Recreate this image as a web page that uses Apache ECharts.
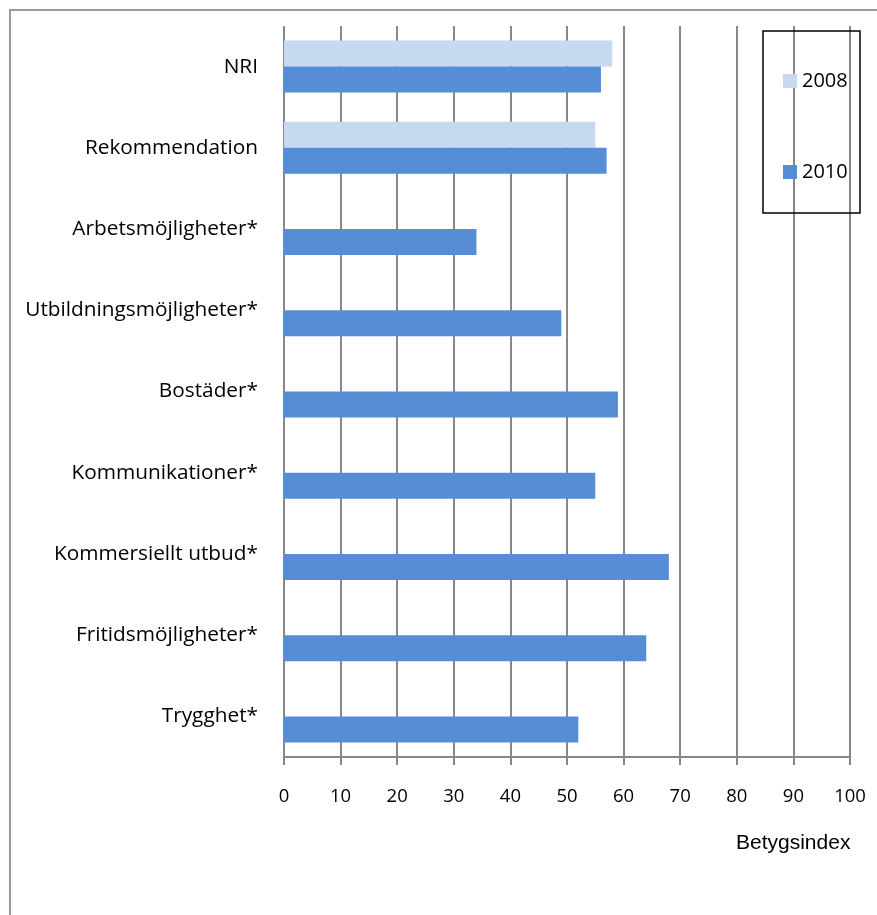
<!DOCTYPE html>
<html><head><meta charset="utf-8">
<script src="https://cdn.jsdelivr.net/npm/echarts@6/dist/echarts.min.js"></script>
<style>html,body{margin:0;padding:0;background:#fff}#c{width:877px;height:915px}</style>
</head><body><div id="c"></div>
<script>
const categories = ['NRI','Rekommendation','Arbetsmöjligheter*','Utbildningsmöjligheter*','Bostäder*','Kommunikationer*','Kommersiellt utbud*','Fritidsmöjligheter*','Trygghet*'];
const values2008 = [58, 55, null, null, null, null, null, null, null];
const values2010 = [56, 57, 34, 49, 59, 55, 68, 64, 52];
const seriesNames = ['2008', '2010'];
const xTicks = [0,10,20,30,40,50,60,70,80,90,100];
const axisTitle = 'Betygsindex';

const chart = echarts.init(document.getElementById('c'), null, {renderer:'canvas'});
const font = "'Open Sans', 'Noto Sans', sans-serif";
chart.setOption({
  animation:false,
  backgroundColor:'#fff',
  grid:{left:284, right:27, top:26, bottom:158, containLabel:false},
  xAxis:{type:'value', min:xTicks[0], max:xTicks[xTicks.length-1], interval:10,
    axisLine:{show:true, lineStyle:{color:'#888', width:2}},
    axisTick:{show:true, length:8, lineStyle:{color:'#888', width:2}},
    splitLine:{show:true, lineStyle:{color:'#888', width:2}},
    axisLabel:{color:'#000', fontSize:18.5, fontFamily:font, margin:30}},
  yAxis:{type:'category', data:categories, inverse:true,
    axisLine:{show:false}, axisTick:{show:false},
    axisLabel:{color:'#000', fontSize:20.8, fontFamily:font, margin:26}},
  legend:{show:true, orient:'vertical', left:778, top:66, itemGap:71, itemWidth:14, itemHeight:14,
    icon:'rect', data:seriesNames,
    textStyle:{color:'#000', fontSize:20, fontFamily:font}},
  series:[
    {name:seriesNames[0], type:'bar', data:values2008, barGap:'0%', barCategoryGap:'36%',
     itemStyle:{color:'#C6D9F1'}},
    {name:seriesNames[1], type:'bar', data:values2010, barGap:'0%', barCategoryGap:'36%',
     itemStyle:{color:'#558ED5'}}
  ],
  graphic:[
    {type:'rect', shape:{x:10, y:10, width:900, height:950}, style:{fill:null, stroke:'#999', lineWidth:2}, silent:true, z:-1},
    {type:'rect', shape:{x:763, y:31, width:97, height:182}, style:{fill:null, stroke:'#000', lineWidth:1.5}, silent:true, z:10},
    {type:'text', left:736, top:833, style:{text:axisTitle, fontSize:21, fontFamily:"'Liberation Sans', Arial, sans-serif", fill:'#000'}}
  ]
});
</script></body></html>
